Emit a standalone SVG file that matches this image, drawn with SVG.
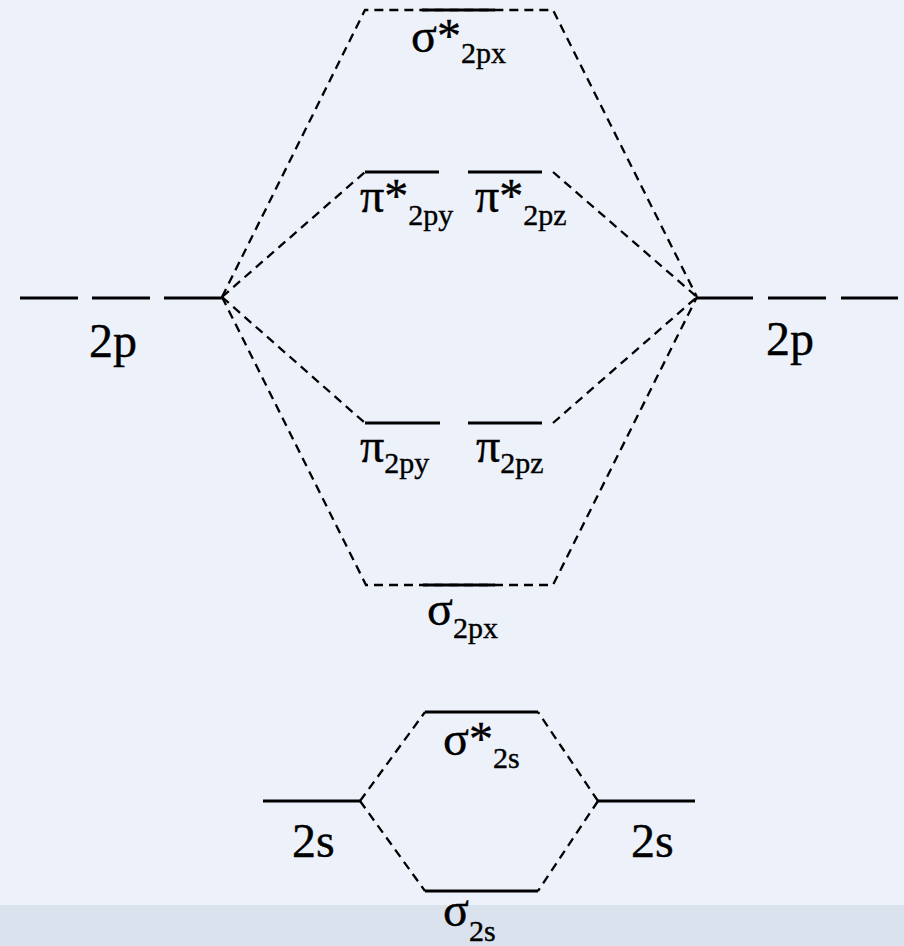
<svg xmlns="http://www.w3.org/2000/svg" width="904" height="946" viewBox="0 0 904 946">
<defs>
<style>
.lvl{stroke:#000;stroke-width:2.8;fill:none}
.dash{stroke:#000;stroke-width:2.3;fill:none;stroke-dasharray:9 6}
.big{font-size:48px;fill:#000;stroke:#000;stroke-width:0.4}
.sub{font-size:30px}
</style>
</defs>
<rect x="0" y="0" width="904" height="946" fill="#edf1fa"/>
<rect x="0" y="905" width="904" height="41" fill="#dae2ee"/>
<g id="connectors">
<polyline class="dash" points="222,297 365,10 553,10 697,297"/>
<line class="dash" x1="222" y1="297" x2="365" y2="172"/>
<line class="dash" x1="553" y1="172" x2="697" y2="297"/>
<line class="dash" x1="222" y1="297" x2="365" y2="423"/>
<line class="dash" x1="553" y1="423" x2="697" y2="297"/>
<polyline class="dash" points="222,297 366,585 553,585 697,297"/>
<line class="dash" x1="360" y1="801" x2="425" y2="712"/>
<line class="dash" x1="360" y1="801" x2="425" y2="891"/>
<line class="dash" x1="598" y1="801" x2="538" y2="712"/>
<line class="dash" x1="598" y1="801" x2="538" y2="891"/>
</g>
<g font-family="'Liberation Serif', 'Times New Roman', 'DejaVu Serif', serif">
<g id="left-2p">
<line class="lvl" x1="20" y1="298" x2="78" y2="298"/>
<line class="lvl" x1="92" y1="298" x2="150" y2="298"/>
<line class="lvl" x1="164" y1="298" x2="222" y2="298"/>
<text class="big" x="89" y="357">2p</text>
</g>
<g id="right-2p">
<line class="lvl" x1="697" y1="298" x2="753" y2="298"/>
<line class="lvl" x1="768" y1="298" x2="826" y2="298"/>
<line class="lvl" x1="841" y1="298" x2="898" y2="298"/>
<text class="big" x="766" y="355">2p</text>
</g>
<g id="sigma-star-2px">
<line class="lvl" x1="422" y1="10" x2="495" y2="10"/>
<text class="big" x="411" y="52">σ*<tspan class="sub" dy="11">2px</tspan></text>
</g>
<g id="pi-star-2py">
<line class="lvl" x1="365" y1="172" x2="439" y2="172"/>
<text class="big" x="360" y="212">π*<tspan class="sub" dy="13">2py</tspan></text>
</g>
<g id="pi-star-2pz">
<line class="lvl" x1="468" y1="172" x2="542" y2="172"/>
<text class="big" x="475" y="212">π*<tspan class="sub" dy="13">2pz</tspan></text>
</g>
<g id="pi-2py">
<line class="lvl" x1="365" y1="423" x2="440" y2="423"/>
<text class="big" x="360" y="462">π<tspan class="sub" dy="11">2py</tspan></text>
</g>
<g id="pi-2pz">
<line class="lvl" x1="468" y1="423" x2="542" y2="423"/>
<text class="big" x="476" y="462">π<tspan class="sub" dy="11">2pz</tspan></text>
</g>
<g id="sigma-2px">
<line class="lvl" x1="423" y1="585" x2="495" y2="585"/>
<text class="big" x="427" y="625">σ<tspan class="sub" dy="13">2px</tspan></text>
</g>
<g id="left-2s">
<line class="lvl" x1="263" y1="801" x2="360" y2="801"/>
<text class="big" x="292" y="857">2s</text>
</g>
<g id="right-2s">
<line class="lvl" x1="598" y1="801" x2="695" y2="801"/>
<text class="big" x="631" y="857">2s</text>
</g>
<g id="sigma-star-2s">
<line class="lvl" x1="425" y1="712" x2="538" y2="712"/>
<text class="big" x="443" y="755">σ*<tspan class="sub" dy="13">2s</tspan></text>
</g>
<g id="sigma-2s">
<line class="lvl" x1="425" y1="891" x2="538" y2="891"/>
<text class="big" x="443" y="926">σ<tspan class="sub" dy="15">2s</tspan></text>
</g>
</g>
</svg>
